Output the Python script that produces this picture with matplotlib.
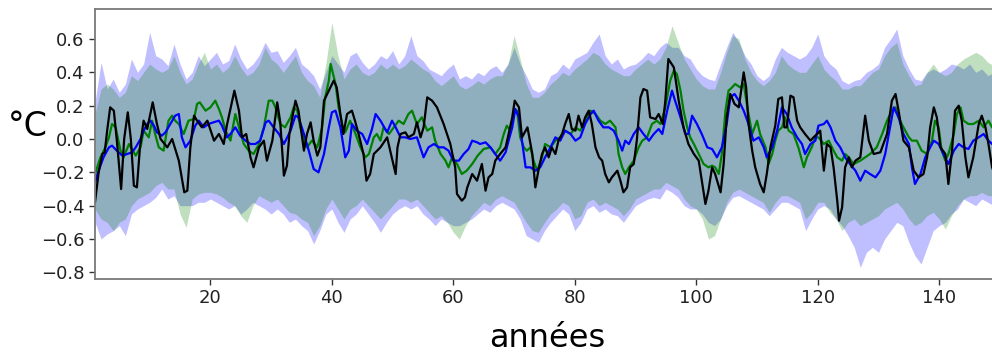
import numpy as np
import matplotlib
matplotlib.use("Agg")
import matplotlib.pyplot as plt

# ---- data ----
black_pts = [(1.0,-0.38),(1.6,-0.20),(2.2,-0.09),(2.6,-0.08),(3.0,0.05),(3.5,0.19),(4.1,0.17),(4.6,-0.01),(5.3,-0.30),(5.8,0.00),(6.4,0.16),(6.9,0.00),(7.4,-0.28),(7.9,-0.29),(8.4,-0.05),(9.0,0.11),(9.6,0.06),(10.5,0.22),(11.2,0.09),(11.8,0.00),(12.9,-0.05),(13.7,0.00),(14.8,-0.13),(15.7,-0.32),(16.2,-0.31),(16.7,-0.05),(17.3,0.14),(17.8,0.11),(18.6,0.07),(19.5,0.11),(20.6,-0.01),(21.4,0.03),(22.2,-0.03),(22.7,0.08),(23.95,0.29),(24.7,0.17),(25.2,0.01),(25.9,0.03),(26.6,-0.11),(27.1,-0.17),(28.0,-0.05),(28.8,-0.01),(29.3,-0.13),(30.2,-0.01),(31.0,0.22),(31.5,0.10),(32.1,-0.22),(32.6,-0.16),(33.0,0.03),(34.0,0.23),(34.5,0.17),(35.4,-0.07),(35.9,0.03),(36.5,0.10),(37.0,-0.01),(37.6,-0.10),(38.1,-0.05),(38.7,0.23),(39.5,0.29),(40.3,0.35),(40.8,0.31),(41.4,0.15),(41.9,0.03),(42.5,0.15),(43.3,0.17),(43.8,0.11),(44.4,0.03),(45.2,-0.09),(45.7,-0.25),(46.3,-0.21),(46.9,-0.09),(48.0,-0.05),(49.1,0.01),(49.6,-0.07),(50.5,-0.21),(50.8,-0.05),(51.3,0.03),(52.1,0.04),(52.6,0.01),(53.5,0.03),(54.0,0.10),(54.6,0.01),(55.1,0.07),(55.7,0.25),(56.5,0.23),(57.3,0.19),(58.4,0.09),(59.5,-0.03),(60.3,-0.17),(60.6,-0.33),(61.4,-0.37),(61.9,-0.35),(62.3,-0.29),(63.1,-0.21),(63.9,-0.25),(64.7,-0.15),(65.3,-0.31),(65.8,-0.23),(66.4,-0.21),(66.9,-0.13),(67.7,-0.09),(68.6,-0.05),(69.1,0.03),(69.7,0.13),(70.1,0.23),(70.8,0.19),(71.3,0.01),(71.9,0.05),(72.2,0.07),(73.0,-0.09),(73.5,-0.29),(74.0,-0.19),(74.6,-0.09),(75.1,-0.05),(75.7,-0.11),(76.2,-0.05),(76.8,-0.09),(77.3,-0.01),(77.9,0.03),(78.4,0.09),(79.0,0.15),(79.5,0.06),(80.1,0.05),(80.6,0.14),(81.2,0.07),(81.7,0.13),(82.3,0.17),(82.8,0.09),(83.4,-0.05),(84.0,-0.11),(84.5,-0.13),(85.0,-0.21),(85.6,-0.26),(86.1,-0.23),(87.0,-0.19),(87.5,-0.25),(88.0,-0.32),(88.6,-0.29),(89.1,-0.17),(89.7,-0.15),(90.2,-0.01),(90.8,0.25),(91.3,0.30),(91.9,0.29),(92.4,0.13),(93.3,0.12),(93.8,0.15),(94.5,0.09),(94.9,0.23),(95.4,0.48),(96.3,0.43),(97.1,0.23),(97.9,0.07),(98.7,-0.03),(99.6,-0.09),(100.4,-0.13),(100.9,-0.25),(101.5,-0.39),(102.0,-0.31),(102.6,-0.17),(103.1,-0.21),(104.0,-0.32),(104.5,-0.15),(105.0,0.13),(105.6,0.27),(106.3,0.21),(107.0,0.19),(107.8,0.40),(108.2,0.31),(108.6,0.09),(109.2,-0.07),(109.7,-0.17),(110.5,-0.27),(111.1,-0.32),(111.6,-0.21),(112.2,-0.05),(113.0,0.08),(113.5,0.24),(114.1,0.25),(114.5,0.07),(114.9,0.07),(115.5,0.26),(116.0,0.25),(116.6,0.11),(117.1,0.07),(117.9,0.03),(118.8,-0.01),(119.3,0.01),(119.9,0.03),(120.4,0.05),(121.0,-0.19),(121.5,-0.03),(122.1,-0.05),(122.6,-0.17),(123.2,-0.37),(123.5,-0.49),(124.0,-0.41),(124.5,-0.17),(125.1,-0.11),(125.6,-0.17),(126.2,-0.13),(127.0,-0.11),(127.8,0.14),(128.4,-0.01),(129.2,-0.09),(130.3,-0.08),(131.4,0.03),(132.2,0.23),(132.8,0.27),(133.3,0.17),(134.1,-0.01),(135.0,-0.05),(135.8,-0.19),(136.6,-0.23),(137.4,-0.21),(138.0,-0.11),(138.5,0.07),(139.1,0.19),(139.6,0.13),(140.2,-0.05),(141.0,-0.09),(141.5,-0.27),(142.1,-0.07),(142.6,0.17),(143.2,0.20),(143.7,0.11),(144.3,-0.11),(144.8,-0.23),(145.6,-0.11),(146.5,0.09),(147.0,0.14),(147.6,0.07),(148.1,-0.03),(148.7,-0.17),(150.0,-0.30)]

green_pts = [(1.0,-0.21),(1.9,-0.11),(2.7,-0.05),(3.3,0.01),(3.8,0.09),(4.4,0.07),(5.2,-0.07),(5.7,-0.11),(6.6,-0.03),(7.7,-0.10),(8.5,-0.05),(9.0,0.05),(9.85,0.01),(10.4,0.11),(10.9,0.03),(11.5,-0.05),(12.3,-0.07),(13.1,0.11),(13.7,0.14),(14.2,0.11),(14.8,0.09),(15.6,0.03),(16.4,0.11),(17.3,0.12),(17.8,0.21),(18.25,0.22),(19.2,0.17),(20.0,0.19),(20.8,0.23),(21.4,0.18),(21.9,0.13),(22.5,0.05),(23.3,-0.01),(24.1,0.15),(24.7,0.07),(25.5,-0.03),(26.3,-0.07),(27.1,-0.09),(28.0,-0.03),(28.8,0.07),(29.6,0.23),(30.2,0.23),(30.7,0.19),(31.5,0.09),(32.3,0.07),(33.2,0.13),(33.7,0.19),(34.3,0.17),(34.8,0.07),(35.4,-0.01),(35.9,-0.05),(36.7,-0.01),(37.6,-0.05),(38.4,0.07),(38.9,0.25),(39.5,0.35),(39.8,0.45),(40.2,0.39),(40.6,0.33),(41.1,0.19),(41.7,0.09),(42.2,0.04),(43.0,0.11),(43.9,0.03),(44.7,-0.05),(45.5,-0.11),(46.1,-0.09),(46.9,0.01),(47.4,0.03),(48.0,-0.01),(48.5,0.07),(49.4,0.03),(50.2,0.07),(51.0,0.11),(51.8,0.09),(52.6,0.15),(53.2,0.17),(54.0,0.09),(54.8,0.13),(55.7,0.05),(56.5,0.07),(57.0,-0.01),(57.9,-0.09),(58.7,-0.13),(59.2,-0.17),(59.8,-0.11),(60.6,-0.15),(61.4,-0.21),(62.2,-0.19),(63.1,-0.15),(64.0,-0.10),(65.0,-0.06),(66.1,-0.05),(66.9,-0.09),(67.7,-0.05),(68.3,0.03),(68.8,0.08),(69.4,0.05),(69.9,0.15),(70.5,0.17),(71.0,0.01),(71.6,-0.05),(72.1,-0.07),(72.7,-0.05),(73.2,-0.13),(73.8,-0.19),(74.6,-0.11),(75.1,-0.03),(76.0,-0.05),(76.8,-0.01),(77.6,0.01),(78.4,0.05),(79.3,0.03),(80.1,0.07),(80.9,0.05),(81.7,0.11),(82.6,0.17),(83.4,0.15),(84.2,0.11),(85.0,0.09),(85.8,0.11),(86.7,0.07),(87.2,-0.09),(87.8,-0.17),(88.3,-0.21),(88.9,-0.17),(89.7,-0.13),(90.5,-0.05),(91.1,-0.01),(91.9,0.01),(92.7,0.09),(93.5,0.11),(94.1,0.09),(94.9,0.19),(95.7,0.35),(96.3,0.41),(96.8,0.39),(97.4,0.29),(97.9,0.17),(98.5,0.07),(99.0,0.01),(99.6,-0.03),(100.4,-0.09),(101.2,-0.15),(102.0,-0.17),(102.6,-0.16),(103.1,-0.17),(103.7,-0.21),(104.2,-0.09),(104.8,0.17),(105.3,0.29),(105.9,0.31),(106.4,0.33),(107.2,0.31),(107.8,0.33),(108.5,0.17),(109.2,0.03),(110.0,0.11),(110.5,0.03),(111.4,-0.05),(111.9,-0.15),(112.5,-0.09),(113.0,-0.01),(113.5,0.05),(114.1,0.07),(114.6,0.13),(115.2,0.05),(116.0,0.03),(116.8,-0.05),(117.7,-0.17),(118.2,-0.11),(119.0,-0.05),(119.6,0.01),(120.1,0.01),(121.0,-0.03),(121.8,-0.01),(122.6,-0.07),(123.2,-0.11),(124.0,-0.13),(124.5,-0.09),(125.1,-0.11),(125.9,-0.15),(127.0,-0.13),(127.8,-0.11),(128.6,-0.09),(129.7,-0.05),(130.6,0.03),(131.4,0.11),(132.2,0.17),(132.8,0.19),(133.3,0.13),(134.1,0.07),(135.0,0.01),(135.5,-0.01),(136.3,-0.01),(137.1,-0.07),(138.0,-0.09),(138.8,-0.01),(139.3,0.11),(139.9,0.07),(140.4,-0.07),(141.0,-0.13),(141.5,-0.09),(142.4,0.03),(142.9,0.15),(143.5,0.19),(144.0,0.11),(144.8,0.09),(145.6,0.09),(146.5,0.11),(147.3,0.07),(148.1,0.11),(148.7,0.07),(150.0,0.05)]

blue_pts = [(1.0,-0.26),(1.6,-0.19),(2.4,-0.11),(3.3,-0.05),(3.8,-0.04),(4.6,-0.07),(5.5,-0.10),(6.3,-0.09),(7.1,-0.08),(7.7,-0.05),(8.5,0.00),(9.0,0.05),(9.6,0.09),(10.1,0.11),(10.7,0.08),(11.2,0.04),(12.0,0.02),(12.6,0.04),(13.4,0.09),(14.2,0.14),(14.8,0.15),(15.3,0.01),(15.9,-0.05),(16.7,-0.01),(17.5,0.08),(18.1,0.11),(18.9,0.07),(19.7,0.09),(20.5,0.10),(21.4,0.11),(21.9,0.08),(22.7,0.01),(23.3,0.03),(24.1,0.07),(24.9,0.02),(25.8,-0.01),(26.6,-0.03),(27.4,-0.03),(28.2,-0.01),(29.1,0.10),(29.6,0.11),(30.4,0.07),(31.3,0.03),(32.1,-0.03),(33.2,0.05),(34.0,0.14),(34.5,0.13),(35.4,0.03),(36.2,-0.07),(37.0,-0.18),(37.8,-0.20),(38.7,-0.09),(39.5,0.07),(40.0,0.16),(40.6,0.17),(41.4,0.07),(42.2,-0.11),(42.8,-0.07),(43.3,0.09),(44.1,0.05),(45.0,0.03),(45.8,-0.03),(46.6,0.06),(47.2,0.15),(48.0,0.11),(49.1,0.04),(49.9,0.11),(50.5,0.07),(51.3,0.01),(52.1,0.01),(52.9,0.00),(54.0,0.01),(55.1,-0.11),(55.9,-0.05),(56.8,-0.03),(57.6,-0.05),(58.4,-0.05),(59.2,-0.07),(60.0,-0.13),(60.9,-0.13),(61.7,-0.09),(62.5,-0.06),(63.1,-0.01),(63.9,-0.02),(64.4,-0.03),(65.3,-0.02),(66.1,-0.05),(66.9,-0.09),(67.7,-0.13),(68.6,-0.08),(69.1,-0.01),(69.7,0.07),(70.2,0.18),(70.8,0.13),(71.3,-0.01),(71.9,-0.17),(72.7,-0.17),(73.5,-0.19),(74.3,-0.17),(75.1,-0.11),(76.0,-0.05),(76.8,0.01),(77.6,-0.01),(78.4,0.05),(79.3,0.03),(80.1,-0.01),(80.9,0.01),(81.7,0.09),(82.6,0.15),(83.1,0.17),(83.9,0.11),(84.7,0.07),(85.6,0.07),(86.4,0.05),(87.2,-0.01),(87.8,-0.07),(88.3,-0.01),(88.9,-0.03),(89.7,0.03),(90.5,0.07),(91.3,0.03),(92.2,-0.01),(93.0,0.03),(93.8,0.06),(94.4,0.03),(95.2,0.17),(96.0,0.29),(96.5,0.23),(97.4,0.13),(98.2,0.03),(98.7,0.03),(99.3,0.14),(100.1,0.09),(100.9,0.03),(101.8,-0.05),(102.6,-0.06),(103.4,-0.11),(104.2,-0.05),(105.0,0.09),(105.6,0.25),(106.3,0.27),(107.0,0.23),(107.8,0.17),(108.6,0.09),(109.4,-0.01),(110.3,0.01),(111.1,-0.05),(111.6,-0.11),(112.5,-0.05),(113.3,0.05),(114.1,0.19),(114.9,0.15),(115.7,0.07),(116.6,0.01),(117.4,-0.03),(117.9,-0.09),(118.8,-0.03),(119.6,-0.01),(120.1,0.08),(121.0,0.09),(121.5,0.11),(122.1,0.07),(122.9,-0.01),(123.7,-0.05),(124.5,-0.11),(125.3,-0.15),(126.2,-0.19),(127.0,-0.25),(127.8,-0.19),(128.6,-0.21),(129.5,-0.23),(130.3,-0.19),(131.1,-0.09),(131.9,0.07),(132.5,0.19),(133.3,0.13),(134.1,0.03),(135.0,-0.03),(135.5,-0.17),(136.0,-0.27),(136.9,-0.21),(137.7,-0.11),(138.5,-0.05),(139.1,-0.01),(139.9,-0.03),(140.7,-0.09),(141.5,-0.15),(142.4,-0.07),(143.2,-0.03),(144.0,-0.05),(144.8,-0.06),(145.6,-0.01),(146.5,0.01),(147.3,0.03),(148.1,-0.01),(148.7,-0.03),(150.0,-0.05)]

band_years = list(range(1, 151))

blue_hi = [0.22,0.46,0.30,0.36,0.28,0.33,0.48,0.40,0.45,0.64,
           0.50,0.48,0.44,0.57,0.45,0.36,0.40,0.50,0.44,0.48,
           0.52,0.45,0.47,0.57,0.48,0.42,0.45,0.50,0.58,0.52,
           0.53,0.46,0.50,0.55,0.45,0.42,0.38,0.30,0.40,0.50,
           0.45,0.40,0.50,0.52,0.46,0.42,0.45,0.50,0.48,0.53,
           0.45,0.50,0.62,0.50,0.47,0.42,0.40,0.38,0.42,0.45,
           0.36,0.38,0.36,0.40,0.38,0.42,0.44,0.40,0.45,0.55,
           0.45,0.38,0.30,0.28,0.30,0.38,0.40,0.45,0.42,0.48,
           0.50,0.52,0.58,0.63,0.50,0.45,0.48,0.42,0.44,0.45,
           0.48,0.52,0.50,0.55,0.58,0.55,0.55,0.50,0.48,0.42,
           0.38,0.36,0.35,0.45,0.55,0.64,0.58,0.50,0.45,0.38,
           0.35,0.38,0.48,0.55,0.52,0.50,0.48,0.50,0.55,0.63,
           0.50,0.45,0.42,0.35,0.33,0.35,0.36,0.40,0.42,0.45,
           0.55,0.60,0.66,0.50,0.42,0.36,0.35,0.40,0.42,0.40,
           0.42,0.45,0.44,0.42,0.45,0.40,0.42,0.38,0.40,0.40]

blue_lo = [-0.50,-0.60,-0.57,-0.55,-0.52,-0.58,-0.45,-0.42,-0.40,-0.38,
           -0.35,-0.30,-0.36,-0.34,-0.40,-0.40,-0.40,-0.38,-0.38,-0.36,
           -0.38,-0.40,-0.42,-0.40,-0.45,-0.42,-0.38,-0.40,-0.42,-0.45,
           -0.42,-0.45,-0.50,-0.48,-0.52,-0.55,-0.63,-0.55,-0.45,-0.42,
           -0.50,-0.56,-0.48,-0.45,-0.40,-0.45,-0.50,-0.56,-0.50,-0.45,
           -0.42,-0.40,-0.42,-0.40,-0.45,-0.48,-0.52,-0.48,-0.50,-0.52,
           -0.52,-0.50,-0.48,-0.45,-0.42,-0.44,-0.40,-0.38,-0.40,-0.42,
           -0.48,-0.58,-0.60,-0.62,-0.55,-0.50,-0.46,-0.42,-0.45,-0.55,
           -0.50,-0.42,-0.40,-0.44,-0.42,-0.45,-0.46,-0.50,-0.45,-0.40,
           -0.38,-0.36,-0.35,-0.36,-0.30,-0.32,-0.35,-0.40,-0.42,-0.42,
           -0.45,-0.50,-0.52,-0.48,-0.40,-0.35,-0.34,-0.36,-0.38,-0.40,
           -0.42,-0.46,-0.42,-0.38,-0.38,-0.40,-0.42,-0.55,-0.48,-0.42,
           -0.40,-0.42,-0.48,-0.52,-0.58,-0.65,-0.77,-0.68,-0.65,-0.68,
           -0.60,-0.55,-0.50,-0.52,-0.62,-0.70,-0.75,-0.65,-0.55,-0.52,
           -0.50,-0.45,-0.42,-0.36,-0.38,-0.40,-0.36,-0.38,-0.40,-0.40]

green_hi = [0.15,0.30,0.33,0.30,0.25,0.28,0.38,0.35,0.40,0.45,
            0.42,0.40,0.42,0.50,0.40,0.33,0.36,0.45,0.52,0.42,
            0.45,0.40,0.43,0.50,0.43,0.38,0.40,0.45,0.55,0.48,
            0.45,0.40,0.45,0.50,0.40,0.35,0.32,0.25,0.45,0.70,
            0.50,0.36,0.42,0.45,0.40,0.38,0.40,0.45,0.42,0.45,
            0.42,0.44,0.48,0.45,0.42,0.40,0.35,0.32,0.35,0.38,
            0.32,0.30,0.32,0.35,0.33,0.36,0.38,0.38,0.45,0.62,
            0.48,0.33,0.25,0.25,0.28,0.33,0.36,0.40,0.38,0.42,
            0.45,0.48,0.52,0.50,0.45,0.42,0.40,0.38,0.38,0.42,
            0.45,0.48,0.45,0.48,0.55,0.68,0.58,0.48,0.42,0.36,
            0.32,0.30,0.30,0.40,0.52,0.62,0.60,0.48,0.40,0.35,
            0.32,0.35,0.40,0.50,0.45,0.42,0.40,0.40,0.45,0.50,
            0.42,0.38,0.35,0.30,0.30,0.32,0.32,0.36,0.40,0.42,
            0.50,0.55,0.58,0.45,0.38,0.32,0.33,0.40,0.45,0.40,
            0.38,0.40,0.45,0.48,0.50,0.52,0.50,0.46,0.44,0.42]

green_lo = [-0.42,-0.48,-0.50,-0.55,-0.50,-0.48,-0.40,-0.36,-0.34,-0.32,
            -0.28,-0.26,-0.30,-0.30,-0.45,-0.53,-0.36,-0.33,-0.32,-0.32,
            -0.33,-0.35,-0.38,-0.40,-0.46,-0.50,-0.40,-0.34,-0.36,-0.38,
            -0.36,-0.40,-0.44,-0.45,-0.48,-0.50,-0.58,-0.52,-0.42,-0.36,
            -0.42,-0.48,-0.42,-0.40,-0.36,-0.40,-0.44,-0.48,-0.44,-0.40,
            -0.36,-0.36,-0.38,-0.36,-0.40,-0.44,-0.48,-0.46,-0.50,-0.56,
            -0.60,-0.52,-0.46,-0.42,-0.38,-0.40,-0.36,-0.34,-0.36,-0.38,
            -0.44,-0.50,-0.55,-0.56,-0.50,-0.45,-0.42,-0.38,-0.40,-0.48,
            -0.46,-0.38,-0.36,-0.40,-0.38,-0.40,-0.42,-0.46,-0.42,-0.36,
            -0.34,-0.32,-0.30,-0.30,-0.26,-0.28,-0.30,-0.36,-0.40,-0.42,
            -0.48,-0.60,-0.58,-0.48,-0.38,-0.32,-0.30,-0.32,-0.34,-0.36,
            -0.38,-0.44,-0.38,-0.34,-0.34,-0.36,-0.38,-0.48,-0.44,-0.38,
            -0.38,-0.44,-0.48,-0.55,-0.50,-0.48,-0.52,-0.50,-0.48,-0.46,
            -0.42,-0.40,-0.38,-0.42,-0.48,-0.52,-0.50,-0.46,-0.44,-0.48,
            -0.54,-0.46,-0.40,-0.36,-0.34,-0.34,-0.32,-0.34,-0.34,-0.35]

x_ticks = [20, 40, 60, 80, 100, 120, 140]
y_ticks = [-0.8, -0.6, -0.4, -0.2, 0.0, 0.2, 0.4, 0.6]

# ---- figure ----
W, H = 992, 358
fig = plt.figure(figsize=(W / 100, H / 100), dpi=100)
ax = fig.add_axes([95 / W, 1 - 279 / H, 905 / W, 270 / H])

ax.fill_between(band_years, blue_lo, blue_hi, color="blue", alpha=0.25, linewidth=0)
ax.fill_between(band_years, green_lo, green_hi, color="green", alpha=0.25, linewidth=0)

gx, gy = zip(*green_pts)
bx, by = zip(*blue_pts)
kx, ky = zip(*black_pts)
ax.plot(gx, gy, color="green", lw=1.6)
ax.plot(bx, by, color="blue", lw=1.6)
ax.plot(kx, ky, color="black", lw=1.6)

ax.set_xlim(1, 150)
ax.set_ylim(-0.84, 0.78)
ax.set_xticks(x_ticks)
ax.set_yticks(y_ticks)
ax.set_yticklabels([f"{v:.1f}".replace("-", "\u2212") for v in y_ticks])
ax.tick_params(labelsize=13, colors="#333333", length=4, width=1)
ax.tick_params(labelcolor="#222222")
for s in ax.spines.values():
    s.set_color("#7a7a7a")
    s.set_linewidth(1.3)

ax.set_ylabel("°C", rotation=0, fontsize=24, ha="center", va="center")
ax.yaxis.set_label_coords(-0.074, 0.565)
ax.set_xlabel("années", fontsize=23, va="center")
ax.xaxis.set_label_coords(0.5, -0.222)

fig.savefig("out.png", dpi=100)
